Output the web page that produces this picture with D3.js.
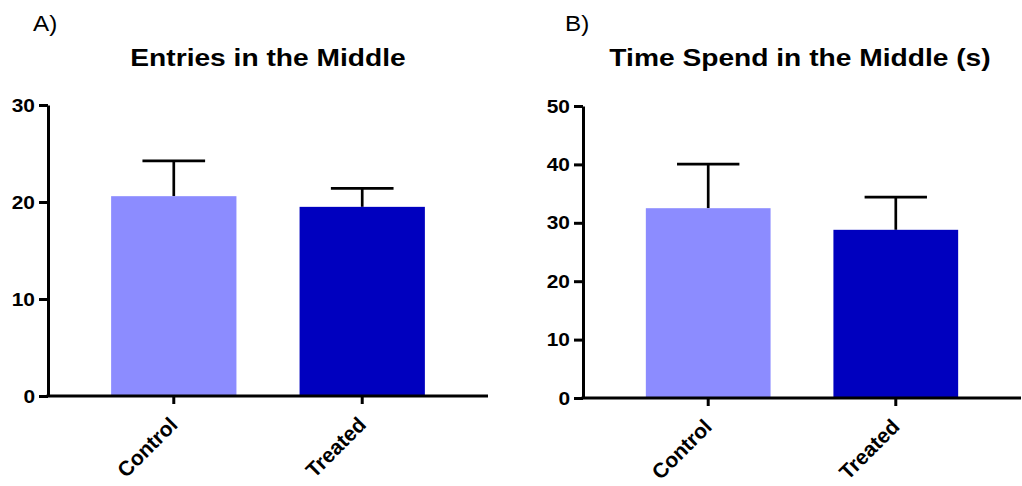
<!DOCTYPE html>
<html>
<head>
<meta charset="utf-8">
<script src="https://cdn.jsdelivr.net/npm/d3@7"></script>
<style>
  body { margin: 0; background: #fff; }
  svg { display: block; font-family: "Liberation Sans", Arial, sans-serif; }
  .axis path, .axis line { stroke: #000; stroke-width: 3; }
  .axis text { font-size: 19px; font-weight: bold; fill: #000; }
</style>
</head>
<body>
<script>
// data
var categories = ["Control", "Treated"];
var barColors = ["#8c8cff", "#0000bf"];

var entriesMean = [20.6, 19.5];
var entriesSD = [3.65, 1.9];
var entriesTicks = [0, 10, 20, 30];

var timeMean = [32.5, 28.8];
var timeSD = [7.55, 5.6];
var timeTicks = [0, 10, 20, 30, 40, 50];

var width = 1022,
    height = 486;

var svg = d3.select("body")
    .append("svg")
    .attr("width", width)
    .attr("height", height);

// the reference is a bit stretched sideways, so the text is too
var stretch = 1.15;

// panel settings: where the axes sit and what they show
var panels = [
    { letter: "A)", letterX: 33, title: "Entries in the Middle", titleX: 268,
      left: 48, right: 488, bottom: 396, top: 105,
      max: 30, ticks: entriesTicks, mean: entriesMean, sd: entriesSD },
    { letter: "B)", letterX: 565, title: "Time Spend in the Middle (s)", titleX: 800,
      left: 583, right: 1021, bottom: 398, top: 106,
      max: 50, ticks: timeTicks, mean: timeMean, sd: timeSD }
];

panels.forEach(function(p) {
    var g = svg.append("g");

    var x = d3.scaleBand()
        .domain(categories)
        .range([p.left, p.right])
        .padding(0.335);

    var y = d3.scaleLinear()
        .domain([0, p.max])
        .range([p.bottom, p.top]);

    // panel letter and title
    g.append("text")
        .attr("transform", "translate(" + p.letterX + ",31) scale(1.1,1)")
        .style("font-size", "22px")
        .text(p.letter);

    g.append("text")
        .attr("transform", "translate(" + p.titleX + ",66) scale(" + stretch + ",1)")
        .attr("text-anchor", "middle")
        .style("font-size", "24.5px")
        .style("font-weight", "bold")
        .text(p.title);

    var rows = categories.map(function(c, i) {
        return { cat: c, mean: p.mean[i], sd: p.sd[i], color: barColors[i] };
    });

    // error bars go first, the bars cover the lower half
    var err = g.append("g").selectAll("g")
        .data(rows)
        .enter().append("g")
        .attr("stroke", "#000")
        .attr("stroke-width", 2.7);

    err.append("line")
        .attr("x1", function(d) { return x(d.cat) + x.bandwidth() / 2; })
        .attr("x2", function(d) { return x(d.cat) + x.bandwidth() / 2; })
        .attr("y1", function(d) { return y(d.mean); })
        .attr("y2", function(d) { return y(d.mean + d.sd); });

    err.append("line")
        .attr("x1", function(d) { return x(d.cat) + x.bandwidth() / 4; })
        .attr("x2", function(d) { return x(d.cat) + x.bandwidth() * 3 / 4; })
        .attr("y1", function(d) { return y(d.mean + d.sd); })
        .attr("y2", function(d) { return y(d.mean + d.sd); });

    g.append("g").selectAll("rect")
        .data(rows)
        .enter().append("rect")
        .attr("x", function(d) { return x(d.cat); })
        .attr("width", x.bandwidth())
        .attr("y", function(d) { return y(d.mean); })
        .attr("height", function(d) { return y(0) - y(d.mean); })
        .attr("fill", function(d) { return d.color; });

    // y axis
    var yAxis = g.append("g")
        .attr("class", "axis")
        .attr("transform", "translate(" + p.left + ",0)")
        .call(d3.axisLeft(y).tickValues(p.ticks).tickSize(9).tickSizeOuter(0).tickPadding(4));
    yAxis.selectAll("text")
        .attr("transform", "scale(1.1,1)")
        .attr("x", -13 / 1.1);

    // x axis
    var xAxis = g.append("g")
        .attr("class", "axis")
        .attr("transform", "translate(0," + p.bottom + ")")
        .call(d3.axisBottom(x).tickSize(8).tickSizeOuter(0));
    xAxis.select(".domain").attr("d", "M" + (p.left - 1.5) + ",0H" + p.right);
    xAxis.selectAll("text")
        .attr("y", null)
        .attr("dy", null)
        .attr("text-anchor", "end")
        .attr("transform", "translate(5,30) rotate(-45)")
        .style("font-size", "21px");
});
</script>
</body>
</html>
